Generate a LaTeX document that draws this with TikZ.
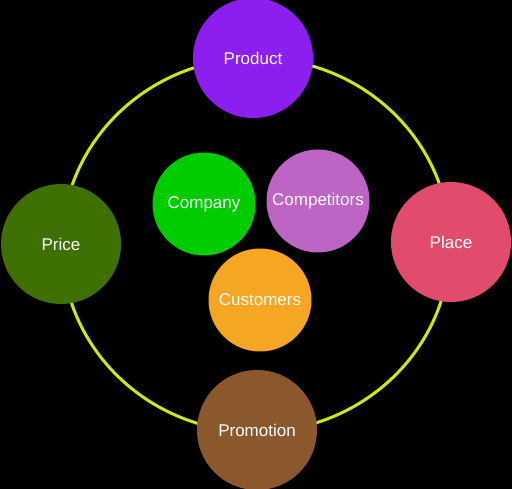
\documentclass[tikz,border=0pt]{standalone}
\usepackage{fontspec}
\setmainfont{Liberation Sans}
\definecolor{ringcol}{RGB}{206,232,20}
\definecolor{productcol}{RGB}{141,30,240}
\definecolor{pricecol}{RGB}{62,112,4}
\definecolor{placecol}{RGB}{226,76,108}
\definecolor{promocol}{RGB}{138,88,44}
\definecolor{companycol}{RGB}{0,204,0}
\definecolor{competcol}{RGB}{190,100,196}
\definecolor{custcol}{RGB}{245,166,35}

\begin{document}
\begin{tikzpicture}[x=1pt, y=-1pt,
    mix-big/.style={circle, minimum size=120pt, inner sep=0pt, text=white, font=\fontsize{17}{20}\selectfont},
    mix-small/.style={circle, minimum size=103pt, inner sep=0pt, text=white, font=\fontsize{17}{20}\selectfont}
  ]

% Black background, fixes the page size
\fill[black] (0,0) rectangle (512,489);
\useasboundingbox (0,0) rectangle (512,489);

% Outer ring
\draw[ringcol, line width=3pt] (256,245) ellipse [x radius=194, y radius=187];

% The four Ps
\node[mix-big, fill=productcol] (product) at (253,58) {Product};
\node[mix-big, fill=pricecol] (price) at (61,244) {Price};
\node[mix-big, fill=placecol] (place) at (451,242) {Place};
\node[mix-big, fill=promocol] (promotion) at (257,430) {Promotion};

% The three Cs in the middle
\node[mix-small, fill=companycol] (company) at (204,204) {Company};
\node[mix-small, fill=competcol] (competitors) at (318,201) {Competitors};
\node[mix-small, fill=custcol] (customers) at (260,300) {Customers};

\end{tikzpicture}
\end{document}
